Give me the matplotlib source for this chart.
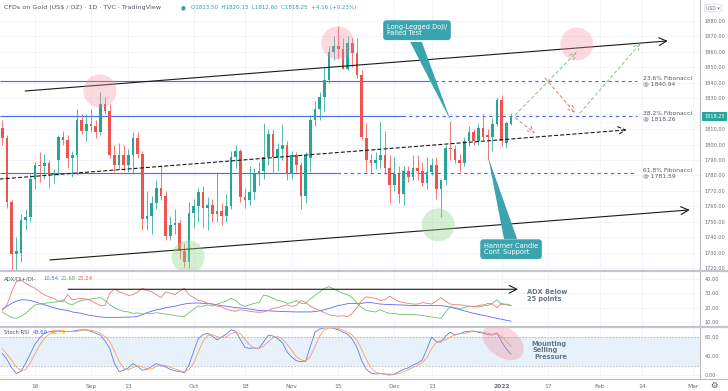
import numpy as np
import pandas as pd
import matplotlib
matplotlib.use('Agg')
import matplotlib.pyplot as plt
import matplotlib.transforms as mtransforms
from matplotlib.patches import Ellipse, Polygon
from matplotlib.lines import Line2D

# ---------------- data (daily bars, 5 Aug 2021 -> 5 Jan 2022) ----------------
opens = [1811, 1804, 1763, 1729, 1730, 1751, 1753,
         1778, 1787, 1786, 1788, 1780,
         1790, 1805, 1803, 1791, 1793,
         1816, 1809, 1813, 1812, 1808,
         1826, 1822, 1793, 1787, 1793,
         1787, 1793, 1804, 1794, 1752,
         1754, 1762, 1772, 1767, 1741,
         1748, 1749, 1731, 1724, 1756,
         1760, 1769, 1759, 1761, 1755,
         1757, 1754, 1760, 1792, 1796,
         1766, 1764, 1769, 1781, 1783,
         1792, 1807, 1792, 1797, 1800,
         1781, 1793, 1787, 1767, 1791,
         1816, 1823, 1831, 1842, 1860,
         1864, 1862, 1849, 1866, 1859,
         1845, 1804, 1790, 1788, 1790,
         1793, 1785, 1774, 1781, 1768,
         1783, 1779, 1785, 1783, 1775,
         1782, 1787, 1771, 1777, 1798,
         1797, 1790, 1788, 1802, 1808,
         1802, 1811, 1806, 1805, 1813,
         1829, 1801, 1813.5]
highs = [1816, 1806, 1764, 1740, 1755, 1758, 1781,
         1789, 1795, 1794, 1790, 1784,
         1806, 1809, 1806, 1796, 1823,
         1820, 1820, 1823, 1816, 1834,
         1831, 1826, 1800, 1801, 1800,
         1797, 1808, 1808, 1796, 1770,
         1767, 1777, 1787, 1770, 1754,
         1758, 1751, 1736, 1763, 1765,
         1772, 1773, 1766, 1765, 1782,
         1762, 1768, 1796, 1800, 1797,
         1772, 1786, 1785, 1789, 1814,
         1810, 1810, 1801, 1813, 1802,
         1796, 1795, 1789, 1795, 1819,
         1828, 1834, 1850, 1864, 1870,
         1877, 1869, 1870, 1869, 1869,
         1848, 1814, 1794, 1795, 1815,
         1809, 1793, 1792, 1786, 1786,
         1786, 1793, 1793, 1789, 1792,
         1791, 1792, 1778, 1800, 1815,
         1800, 1794, 1805, 1812, 1810,
         1814, 1820, 1810, 1817, 1831,
         1832, 1815, 1820.13]
lows = [1800, 1759, 1690, 1718, 1724, 1745, 1750,
        1771, 1776, 1778, 1772, 1775,
        1780, 1800, 1785, 1779, 1780,
        1807, 1802, 1808, 1804, 1806,
        1820, 1791, 1782, 1784, 1783,
        1782, 1781, 1791, 1745, 1745,
        1742, 1758, 1764, 1738, 1738,
        1742, 1726, 1721, 1720, 1746,
        1750, 1746, 1745, 1750, 1750,
        1748, 1750, 1758, 1785, 1763,
        1759, 1761, 1765, 1774, 1778,
        1787, 1782, 1783, 1790, 1777,
        1778, 1782, 1758, 1762, 1782,
        1812, 1816, 1822, 1840, 1855,
        1856, 1849, 1848, 1850, 1843,
        1803, 1782, 1781, 1784, 1785,
        1781, 1762, 1770, 1762, 1761,
        1776, 1777, 1777, 1773, 1771,
        1780, 1765, 1753, 1774, 1790,
        1788, 1782, 1786, 1799, 1800,
        1800, 1803, 1790, 1796, 1812,
        1799, 1798, 1812.6]
closes = [1804, 1763, 1729, 1731, 1751, 1753, 1778,
          1787, 1786, 1788, 1780, 1781,
          1805, 1803, 1791, 1793, 1816,
          1809, 1813, 1812, 1808, 1826,
          1822, 1793, 1787, 1793, 1787,
          1793, 1804, 1794, 1752, 1754,
          1762, 1772, 1767, 1741, 1748,
          1749, 1731, 1724, 1756, 1760,
          1769, 1759, 1761, 1755, 1757,
          1754, 1760, 1792, 1796, 1766,
          1764, 1769, 1781, 1783, 1792,
          1807, 1792, 1797, 1800, 1781,
          1793, 1787, 1767, 1793, 1816,
          1823, 1831, 1842, 1860, 1864,
          1862, 1849, 1866, 1859, 1845,
          1805, 1790, 1788, 1790, 1793,
          1785, 1774, 1781, 1768, 1783,
          1779, 1785, 1783, 1775, 1782,
          1787, 1771, 1777, 1798, 1797,
          1790, 1788, 1802, 1808, 1802,
          1811, 1805, 1805, 1813, 1829,
          1802, 1814, 1818.25]

adx = [19, 21, 23, 24.5, 25.5, 25.5, 25,
       24, 23, 22, 21, 20,
       19, 18.5, 18, 17, 16.5,
       16, 15, 14.5, 14, 13.5,
       13.3, 13.2, 13.2, 13.3, 13.3,
       13.4, 13.5, 14, 15, 16.5,
       17.5, 18.5, 19, 20, 20.5,
       21, 21.8, 22.5, 23, 23.2,
       23.2, 23, 23, 22.5, 22,
       21.5, 21, 20.5, 20, 19.8,
       19.5, 19, 18.5, 18, 17.8,
       17.8, 17.6, 17.5, 17.3, 17.2,
       17.1, 17, 17, 17, 17,
       17.3, 17.8, 18.5, 19.5, 20.5,
       21.5, 22, 22.8, 23, 22.8,
       23, 23.5, 23.5, 23, 22.5,
       22.3, 22.2, 22, 21.9, 21.8,
       21.6, 21.5, 21.5, 21.4, 21.4,
       21.4, 21.4, 21.4, 21, 20.3,
       19.5, 18.7, 17.8, 16.9, 16,
       15.3, 14.6, 14, 13.2, 12.5,
       11.9, 11.2, 10.54]
di_plus = [17, 15, 13, 12.6, 14, 16, 19,
           21.9, 22.5, 23, 23.5, 23.8,
           24.2, 25.5, 23, 22, 24,
           25, 25.5, 26, 26.5, 27,
           25, 22, 20, 18.5, 17.5,
           17, 16, 16.3, 15.5, 16.2,
           15.8, 16.5, 16, 15.5, 15,
           14.5, 14, 13.7, 16.5, 19,
           21, 21, 22, 21, 22.5,
           23.5, 24.5, 26.5, 25, 22,
           21, 22, 23, 23.5, 28.8,
           28, 26.5, 25, 24.5, 23,
           23.5, 25, 23, 23, 26,
           28.5, 31, 33.5, 34.6, 33,
           31.5, 30, 29, 27, 23,
           20, 18, 17.5, 17, 18.5,
           17, 16, 16, 15.3, 15.3,
           15.3, 15.3, 15, 14.5, 14,
           13.5, 13, 12.6, 17, 20.7,
           20, 19.5, 20, 21, 20.5,
           21.5, 22, 21.5, 23, 25.4,
           22, 22.5, 21.68]
di_minus = [18, 22, 31, 38, 39, 37, 35,
            33.5, 31, 29, 27.5, 26.5,
            24.5, 24, 29, 25.5, 26,
            26.5, 26, 25, 23, 21.5,
            21.5, 30, 33, 31, 30,
            28.5, 29, 31, 33.5, 32,
            31, 29, 27, 31, 30,
            29, 31.5, 33.5, 29, 27,
            25, 24.5, 23, 22.5, 21,
            20.5, 19, 18, 17.5, 18.5,
            18, 17.5, 17, 16.8, 17,
            18, 19.5, 20, 21, 22,
            21, 21.5, 25, 23.5, 21,
            19.5, 18, 16.5, 15, 14.5,
            14, 14.3, 13.7, 16, 20,
            25, 27.5, 27, 26.5, 25,
            25.5, 28, 26, 24.2, 23.5,
            23, 22.5, 22.5, 23.5, 23,
            22.5, 24.5, 27, 24.5, 22.5,
            22, 22, 21.5, 21, 20.7,
            20.5, 21, 23, 22.5, 20,
            23, 22, 21.24]
stoch_k = [45, 33, 15, 3, 8, 25, 45,
           65, 78, 88, 91, 92,
           93, 92, 91, 92, 94,
           95, 95, 92, 88, 84,
           72, 56, 25, 7, 10,
           15, 24, 18, 10, 12,
           18, 24, 20, 17, 12,
           9, 7, 5, 21, 50,
           77, 85, 88, 82, 74,
           80, 86, 95, 92, 75,
           58, 56, 57, 56, 70,
           84, 82, 77, 68, 49,
           38, 30, 28, 29, 60,
           90, 97, 99, 100, 98,
           95, 90, 86, 75, 58,
           30, 12, 4, 2, 3,
           2, 0, 2, 7, 12,
           15, 21, 25, 32, 55,
           80, 70, 69, 82, 90,
           84, 87, 91, 92, 92.6,
           90, 88, 85, 84, 89,
           70, 55, 43.6]
stoch_d = [55, 44, 31, 17, 9, 12, 26,
           45, 63, 77, 86, 90,
           92, 92, 92, 92, 92,
           94, 95, 94, 92, 88,
           81, 71, 51, 29, 14,
           11, 16, 19, 17, 13,
           13, 18, 21, 20, 16,
           13, 9, 7, 11, 25,
           49, 71, 83, 85, 81,
           79, 80, 87, 91, 87,
           75, 63, 57, 56, 61,
           70, 79, 81, 76, 65,
           52, 39, 32, 29, 39,
           60, 82, 95, 99, 99,
           98, 94, 90, 84, 73,
           54, 33, 15, 6, 3,
           2, 2, 1, 3, 7,
           11, 16, 20, 26, 37,
           56, 68, 73, 74, 80,
           85, 87, 87, 90, 92,
           92, 90, 88, 86, 86,
           81, 71, 60.79]

tick_dates = ['2021-08-16', '2021-09-01', '2021-09-13', '2021-10-01', '2021-10-18',
              '2021-11-01', '2021-11-15', '2021-12-01', '2021-12-13', '2022-01-03',
              '2022-01-17', '2022-02-01', '2022-02-14', '2022-03-01']
tick_labels = ['16', 'Sep', '13', 'Oct', '18', 'Nov', '15', 'Dec', '13', '2022',
               '17', 'Feb', '14', 'Mar']

fib_levels = [1840.94, 1818.26, 1781.59]
fib_names = ['23.6% Fibonacci', '38.2% Fibonacci', '61.8% Fibonacci']

# ---------------- layout ----------------
W, H = 728, 391
GREEN, RED = '#26a69a', '#ef5350'
TEAL = '#3ba4ae'
FIB = '#4a67e8'
TXT = '#6a6d78'
AXFS = 3.6

days = pd.bdate_range('2021-08-05', '2022-03-10')
x = np.arange(len(opens))
tick_pos = [days.get_loc(pd.Timestamp(d)) for d in tick_dates]

fig = plt.figure(figsize=(W / 100, H / 100), dpi=100)
fig.patch.set_facecolor('white')


def panel(top, bottom):
    return fig.add_axes([0, 1 - bottom / H, 700 / W, (bottom - top) / H])


ax = panel(0, 270)
ax_adx = panel(271.5, 326)
ax_rsi = panel(327.5, 378)

for a in (ax, ax_adx, ax_rsi):
    a.set_xlim(-0.5, 149.5)
    for s in a.spines.values():
        s.set_visible(False)
    a.spines['right'].set_visible(True)
    a.spines['right'].set_color('#b8bbc4')
    a.spines['right'].set_linewidth(0.8)
    a.yaxis.tick_right()
    a.tick_params(axis='y', length=0, pad=3.5, labelsize=AXFS, labelcolor=TXT)
    a.tick_params(axis='x', length=0, labelbottom=False)
    a.set_xticks(tick_pos)
    a.grid(color='#eef0f5', lw=0.5)
    a.set_axisbelow(True)

# ---------------- price panel ----------------
ax.set_ylim(1718.8, 1893.6)
price_ticks = np.arange(1720, 1881, 10)
ax.set_yticks(price_ticks)
# the 1820 label sits under the last-price tag, so it is left blank
ax.set_yticklabels(['' if v == 1820 else '%.2f' % v for v in price_ticks])

o, h, l, c = map(np.array, (opens, highs, lows, closes))
col = np.where(c >= o, GREEN, RED)
ax.vlines(x, l, h, colors=col, lw=0.55, zorder=3)
ax.bar(x, np.maximum(np.abs(c - o), 0.4), bottom=np.minimum(o, c), width=0.62,
       color=col, lw=0, zorder=3)

# fibonacci levels: solid part then dashed projection
fib_solid_end = [91.2, 85.6, 71.7]
for lev, name, xe in zip(fib_levels, fib_names, fib_solid_end):
    ax.hlines(lev, -0.5, xe, color=FIB, lw=0.8, zorder=2)
    ax.hlines(lev, xe, 136, color=FIB, lw=0.8, linestyles=(0, (3, 3)), zorder=2)
    ax.text(137.3, lev, '%s\n@ %.2f' % (name, lev), fontsize=4.3, color='#55585f',
            va='center', ha='left', linespacing=1.15)

# channel
arrow_k = dict(arrowstyle='->,head_length=0.55,head_width=0.28', color='#1a1a1a',
               lw=0.8, shrinkA=0, shrinkB=0)
ax.annotate('', xy=(142.6, 1867.1), xytext=(4.9, 1834.7), arrowprops=arrow_k, zorder=4)
ax.annotate('', xy=(147.3, 1757.7), xytext=(10.2, 1725.3), arrowprops=arrow_k, zorder=4)
ax.annotate('', xy=(133.8, 1809.5), xytext=(-0.5, 1777.7),
            arrowprops=dict(arrow_k, linestyle=(0, (3, 2.5))), zorder=4)

# projections
arrow_g = dict(arrowstyle='->,head_length=0.45,head_width=0.22', color='#7cc47f',
               lw=0.7, linestyle=(0, (3, 3)), shrinkA=0, shrinkB=0)
arrow_r = dict(arrow_g, color='#e57373')
ax.annotate('', xy=(123.1, 1860.0), xytext=(109.9, 1819.2), arrowprops=arrow_g, zorder=4)
ax.annotate('', xy=(114.1, 1807.5), xytext=(109.9, 1817.2), arrowprops=arrow_r, zorder=4)
ax.annotate('', xy=(122.7, 1820.5), xytext=(116.3, 1843.1), arrowprops=arrow_r, zorder=4)
ax.annotate('', xy=(136.8, 1865.8), xytext=(123.8, 1820.5), arrowprops=arrow_g, zorder=4)


def blob(a, cx, cy, w_px, h_px, color, alpha, angle=0):
    tr = fig.dpi_scale_trans + mtransforms.ScaledTranslation(cx, cy, a.transData)
    a.add_patch(Ellipse((0, 0), w_px / 100, h_px / 100, angle=angle, transform=tr,
                        fc=color, ec='none', alpha=alpha, zorder=5))


for cx, cy in [(20.9, 1834.7), (71.9, 1865.8), (123.1, 1865.1)]:
    blob(ax, cx, cy, 33, 33, '#f28b9e', 0.32)
for cx, cy in [(39.8, 1727.3), (93.4, 1748.0)]:
    blob(ax, cx, cy, 33, 33, '#8fd48a', 0.38)

# callouts
ax.add_patch(Polygon([(87.4, 1866.4), (89.9, 1866.4), (96.1, 1815.3)], closed=True,
                     fc=TEAL, ec='none', zorder=6))
ax.text(82.4, 1878.1, 'Long-Legged Doji/\nFailed Test', fontsize=4.8, color='white',
        va='top', ha='left', linespacing=1.1, zorder=7,
        bbox=dict(boxstyle='round,pad=0.55,rounding_size=0.5', fc=TEAL, ec='none'))
ax.add_patch(Polygon([(107.5, 1738.9), (110.3, 1738.9), (104.1, 1792.0)], closed=True,
                     fc=TEAL, ec='none', zorder=6))
ax.text(103.2, 1736.3, 'Hammer Candle\nConf. Support', fontsize=4.8, color='white',
        va='top', ha='left', linespacing=1.1, zorder=7,
        bbox=dict(boxstyle='round,pad=0.55,rounding_size=0.5', fc=TEAL, ec='none'))

# last price tag
ax.text(1.006, closes[-1], '%.2f' % closes[-1], fontsize=AXFS, color='white',
        transform=mtransforms.blended_transform_factory(ax.transAxes, ax.transData),
        va='center', ha='left', bbox=dict(boxstyle='square,pad=0.35', fc=GREEN, ec='none'))

# ---------------- ADX panel ----------------
ax_adx.set_ylim(7.2, 45.2)
ax_adx.set_yticks([10, 20, 30, 40])
ax_adx.set_yticklabels(['10.00', '20.00', '30.00', '40.00'])
ax_adx.plot(x, adx, color='#5c6bf0', lw=0.6)
ax_adx.plot(x, di_plus, color='#6cc06c', lw=0.6)
ax_adx.plot(x, di_minus, color='#f07a7a', lw=0.6)
ax_adx.annotate('', xy=(110.5, 32.8), xytext=(14.1, 32.8), arrowprops=arrow_k)
ax_adx.text(112.4, 28.5, 'ADX Below\n25 points', fontsize=4.8, color='#66768a',
            va='center', ha='left', linespacing=1.05, fontweight='bold')

# ---------------- Stoch RSI panel ----------------
ax_rsi.set_ylim(-6.3, 100)
ax_rsi.set_yticks([0, 40, 80])
ax_rsi.set_yticklabels(['0.00', '40.00', '80.00'])
ax_rsi.axhspan(20, 80, color='#e6f1fc', lw=0, zorder=0)
for lev in (20, 80):
    ax_rsi.axhline(lev, color='#a3a6ae', lw=0.5, ls=(0, (2.5, 2)), zorder=1)
ax_rsi.plot(x, stoch_k, color='#5b7cf0', lw=0.6)
ax_rsi.plot(x, stoch_d, color='#f5a15a', lw=0.6)
blob(ax_rsi, 107.3, 69.5, 46, 30, '#f28b9e', 0.35, angle=-35)
for dx, val, word in [(113.3, 65.3, 'Mounting'), (113.7, 52.6, 'Selling'),
                      (114.1, 37.9, 'Pressure')]:
    ax_rsi.text(dx, val, word, fontsize=4.8, color='#66768a', va='center', ha='left',
                fontweight='bold')

ax_rsi.tick_params(axis='x', labelbottom=True, labelsize=4.3, labelcolor=TXT, pad=4)
ax_rsi.set_xticklabels(tick_labels)
for t in ax_rsi.get_xticklabels():
    if t.get_text() == '2022':
        t.set_fontweight('bold')

# ---------------- frame / header ----------------
for yy, lw_, cc in [(270.6, 1.6, '#c4c6cc'), (326.7, 1.6, '#c4c6cc'), (378.5, 0.8, '#b8bbc4')]:
    fig.add_artist(Line2D([0, 1], [1 - yy / H] * 2, color=cc, lw=lw_))

fig.text(4 / W, 1 - 8 / H, 'CFDs on Gold (US$ / OZ) · 1D · TVC · TradingView',
         fontsize=4.6, color='#50535e', va='center')
fig.text(183 / W, 1 - 8 / H, '●', fontsize=4, color=GREEN, va='center', ha='center')
fig.text(191 / W, 1 - 8 / H, 'O1813.50  H1820.13  L1812.60  C1818.25  +4.16 (+0.23%)',
         fontsize=4.0, color=GREEN, va='center')
fig.text(713 / W, 1 - 8 / H, 'USD ▾', fontsize=3.3, color=TXT, va='center', ha='center',
         bbox=dict(boxstyle='round,pad=0.3', fc='white', ec='#d1d4dc', lw=0.5))

fig.text(4 / W, 1 - 279 / H, 'ADX/DI+/DI-', fontsize=3.8, color='#50535e', va='center')
fig.text(43 / W, 1 - 279 / H, '%.2f' % adx[-1], fontsize=3.8, color='#5c6bf0', va='center')
fig.text(61 / W, 1 - 279 / H, '%.2f' % di_plus[-1], fontsize=3.8, color='#4caf50', va='center')
fig.text(78 / W, 1 - 279 / H, '%.2f' % di_minus[-1], fontsize=3.8, color='#ef5350', va='center')

fig.text(4 / W, 1 - 333 / H, 'Stoch RSI', fontsize=3.8, color='#50535e', va='center')
fig.text(33 / W, 1 - 333 / H, '%.2f' % stoch_k[-1], fontsize=3.8, color='#2962ff', va='center')
fig.text(51 / W, 1 - 333 / H, '%.2f' % stoch_d[-1], fontsize=3.8, color='#ff9800', va='center')

fig.text(714 / W, 1 - 385 / H, '⚙', fontsize=6, color='#50535e', va='center', ha='center')

fig.savefig('out.png', dpi=100)
